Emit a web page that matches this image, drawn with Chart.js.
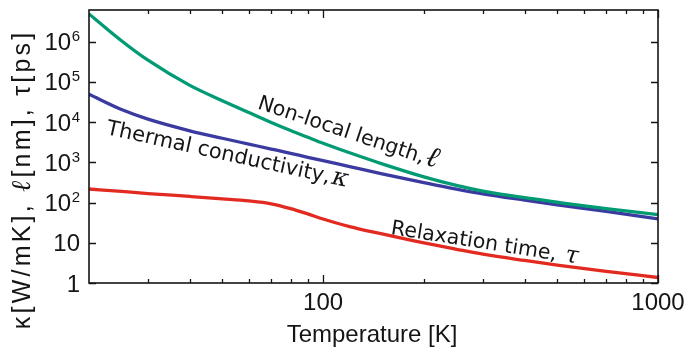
<!DOCTYPE html>
<html>
<head>
<meta charset="utf-8">
<script src="https://cdn.jsdelivr.net/npm/chart.js@4/dist/chart.umd.min.js"></script>
<style>
  html, body { margin: 0; padding: 0; background: #fff; }
  #wrap { width: 686px; height: 350px; }
</style>
</head>
<body>
<div id="wrap"><canvas id="c" width="686" height="350"></canvas></div>
<script>
// Temperature grid (K) shared by all three curves
const temperatures = [20, 25, 30, 40, 50, 60, 70, 80, 90, 100, 120, 150, 200, 250, 300, 400, 500, 700, 1000];

// Non-local length, l [nm]
const nonLocalLength = [4.92e6, 1.06e6, 3.47e5, 8.23e4, 3.43e4, 1.73e4, 9.8e3, 6.18e3, 4.21e3, 2.99e3, 1.73e3, 918, 436, 268, 194, 132, 102, 70.5, 50];
// Thermal conductivity, kappa [W/mK]
const thermalConductivity = [4.94e4, 2.06e4, 1.19e4, 6.11e3, 3.98e3, 2.85e3, 2.15e3, 1.68e3, 1.34e3, 1.10e3, 786, 520, 315, 217, 165, 115, 88, 60.4, 39.3];
// Relaxation time, tau [ps]
const relaxationTime = [218, 189, 168, 142, 124, 110, 93.4, 70.9, 52.4, 39.1, 25.3, 16.6, 9.9, 6.9, 5.2, 3.63, 2.80, 1.95, 1.37];

// Axis ticks
const yTickValues = [1, 10, 100, 1e3, 1e4, 1e5, 1e6];
const yTickBase = ['1', '10', '10', '10', '10', '10', '10'];
const yTickExp = ['', '', '2', '3', '4', '5', '6'];
const xMajorTicks = [100, 1000];
const xMajorLabels = ['100', '1000'];
const xMinorTicks = [30, 40, 50, 60, 70, 80, 90, 200, 300, 400, 500, 600, 700, 800, 900];

const xTitle = 'Temperature [K]';
const yTitleParts = ['κ[W/mK], ', 'ℓ', '[nm], ', 'τ', '[ps]'];

// Curve captions: text, trailing symbol, anchor (temperature, value), baseline angle in degrees
const captionTexts = ['Non-local length,', 'Thermal conductivity,', 'Relaxation time, '];
const captionSymbols = ['ℓ', 'κ', 'τ'];
const captionT = [63.4, 22.4, 158.8];
const captionV = [2.22e4, 5.09e3, 16.6];
const captionAngle = [18.4, 12.4, 9.0];

const GREEN = 'rgb(0,155,115)';
const BLUE = 'rgb(58,58,160)';
const RED = 'rgb(226,42,32)';
const INK = '#151515';
const SANS = '"Liberation Sans", Arial, sans-serif';

function series(values) {
  return temperatures.map((t, i) => ({ x: t, y: values[i] }));
}

// draws text one glyph at a time with extra tracking, returns the advance
function spacedText(ctx, text, x, y, spacing, draw) {
  let cx = x;
  for (const ch of text) {
    if (draw) ctx.fillText(ch, cx, y);
    cx += ctx.measureText(ch).width + spacing;
  }
  return cx - x;
}

const axesPlugin = {
  id: 'axesDecor',
  afterDatasetsDraw(chart) {
    const ctx = chart.ctx;
    const a = chart.chartArea;
    const xs = chart.scales.x, ys = chart.scales.y;
    ctx.save();

    // frame
    ctx.strokeStyle = INK;
    ctx.lineWidth = 1.6;
    ctx.strokeRect(a.left, a.top, a.right - a.left, a.bottom - a.top);

    // y ticks (both sides, inward)
    ctx.lineWidth = 1.3;
    ctx.beginPath();
    yTickValues.forEach(v => {
      const y = Math.round(ys.getPixelForValue(v)) + 0.5;
      ctx.moveTo(a.left, y); ctx.lineTo(a.left + 7, y);
      ctx.moveTo(a.right, y); ctx.lineTo(a.right - 7, y);
    });
    // x ticks (bottom and top, inward)
    xMajorTicks.forEach(v => {
      const x = Math.round(xs.getPixelForValue(v)) + 0.5;
      ctx.moveTo(x, a.bottom); ctx.lineTo(x, a.bottom - 8);
      ctx.moveTo(x, a.top); ctx.lineTo(x, a.top + 8);
    });
    xMinorTicks.forEach(v => {
      const x = Math.round(xs.getPixelForValue(v)) + 0.5;
      ctx.moveTo(x, a.bottom); ctx.lineTo(x, a.bottom - 4);
      ctx.moveTo(x, a.top); ctx.lineTo(x, a.top + 4);
    });
    ctx.stroke();

    // y tick labels with superscript exponents
    ctx.fillStyle = INK;
    ctx.textBaseline = 'alphabetic';
    ctx.textAlign = 'right';
    const labelRight = a.left - 9;
    yTickValues.forEach((v, i) => {
      const y = ys.getPixelForValue(v);
      let right = labelRight;
      if (yTickExp[i]) {
        ctx.font = '15px ' + SANS;
        ctx.fillText(yTickExp[i], right, y - 0.5);
        right -= ctx.measureText(yTickExp[i]).width + 0.5;
      }
      ctx.font = '24px ' + SANS;
      ctx.fillText(yTickBase[i], right, y + 8.5);
    });

    // x tick labels
    ctx.textAlign = 'center';
    ctx.font = '24px ' + SANS;
    xMajorTicks.forEach((v, i) => {
      ctx.fillText(xMajorLabels[i], xs.getPixelForValue(v), 310);
    });

    // x title
    ctx.fillText(xTitle, (a.left + a.right) / 2 - 1.5, 342);

    // y title, rotated, built from pieces with different faces
    const yFonts = ['25px ' + SANS, 'italic 27px "DejaVu Serif"', '25px ' + SANS, '25px ' + SANS, '25px ' + SANS];
    const track = 3.2;
    ctx.textAlign = 'left';
    let total = 0;
    yTitleParts.forEach((p, i) => { ctx.font = yFonts[i]; total += spacedText(ctx, p, 0, 0, track, false); });
    total -= track;
    ctx.save();
    ctx.translate(30, 181);
    ctx.rotate(-Math.PI / 2);
    let cx = -total / 2;
    yTitleParts.forEach((p, i) => {
      ctx.font = yFonts[i];
      cx += spacedText(ctx, p, cx, 0, track, true);
    });
    ctx.restore();

    // curve captions
    const capFonts = ['20.5px "DejaVu Sans"', '21px "DejaVu Sans"', '20.5px "DejaVu Sans"'];
    const symFonts = ['italic 29px "DejaVu Serif"', 'italic 25px "DejaVu Serif"', 'italic 24px "DejaVu Serif"'];
    captionTexts.forEach((txt, i) => {
      const px = xs.getPixelForValue(captionT[i]);
      const py = ys.getPixelForValue(captionV[i]);
      ctx.save();
      ctx.translate(px, py);
      ctx.rotate(captionAngle[i] * Math.PI / 180);
      ctx.font = capFonts[i];
      ctx.fillText(txt, 0, 0);
      const w = ctx.measureText(txt).width;
      ctx.font = symFonts[i];
      ctx.fillText(captionSymbols[i], w + 2, 0);
      ctx.restore();
    });

    ctx.restore();
  }
};

new Chart(document.getElementById('c'), {
  type: 'line',
  data: {
    datasets: [
      { label: 'Non-local length', data: series(nonLocalLength), borderColor: GREEN },
      { label: 'Thermal conductivity', data: series(thermalConductivity), borderColor: BLUE },
      { label: 'Relaxation time', data: series(relaxationTime), borderColor: RED }
    ]
  },
  options: {
    responsive: false,
    animation: false,
    devicePixelRatio: 1,
    layout: { padding: { left: 89, right: 28, top: 10, bottom: 67 } },
    plugins: { legend: { display: false }, tooltip: { enabled: false } },
    elements: {
      point: { radius: 0 },
      line: { borderWidth: 3.3, cubicInterpolationMode: 'monotone', fill: false }
    },
    scales: {
      x: { type: 'logarithmic', min: 20, max: 1000, display: false },
      y: { type: 'logarithmic', min: 1, max: Math.pow(10, 6.79), display: false }
    }
  },
  plugins: [axesPlugin]
});
</script>
</body>
</html>
